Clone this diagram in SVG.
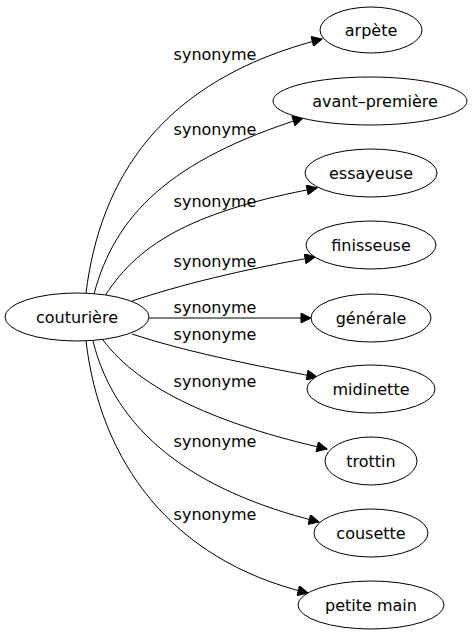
<svg xmlns="http://www.w3.org/2000/svg" width="475" height="635" viewBox="0 0 475 635">
<style>
.n ellipse{fill:#fff;stroke:#000;stroke-width:1}
text{font-family:"DejaVu Sans",sans-serif;font-size:16px;fill:#000}
.n text{text-anchor:middle}
.lbl text{text-anchor:middle}
.e path{fill:none;stroke:#000;stroke-width:1;marker-end:url(#arr)}
</style>
<defs>
<marker id="arr" viewBox="0 0 10 10" refX="10" refY="5" markerUnits="userSpaceOnUse" markerWidth="13" markerHeight="10" orient="auto">
<path d="M0,0 L10,5 L0,10 z" fill="#000" stroke="#000"/>
</marker>
</defs>
<rect width="475" height="635" fill="#fff"/>
<g id="edges" class="e">
<path d="M86,293 C100,180 160,80 322,39"/>
<path d="M94,294 C115,215 170,160 303,118"/>
<path d="M105,296 C140,240 200,210 317,188"/>
<path d="M132,301 C180,285 240,270 315,257"/>
<path d="M149,318 L311,318"/>
<path d="M132,334 C180,350 250,365 317,377"/>
<path d="M103,340 C140,390 220,425 327,449"/>
<path d="M93,341 C115,430 190,490 319,522"/>
<path d="M86,341 C100,460 170,560 308,593"/>
</g>
<g id="labels" class="lbl">
<text x="215" y="60">synonyme</text>
<text x="215" y="135">synonyme</text>
<text x="215" y="207">synonyme</text>
<text x="215" y="267">synonyme</text>
<text x="215" y="313">synonyme</text>
<text x="215" y="340">synonyme</text>
<text x="215" y="387">synonyme</text>
<text x="215" y="447">synonyme</text>
<text x="215" y="520">synonyme</text>
</g>
<g id="couturiere" class="n"><ellipse cx="77" cy="317" rx="72" ry="24"/><text x="77" y="323">couturière</text></g>
<g id="arpete" class="n"><ellipse cx="371" cy="30" rx="51" ry="23"/><text x="371" y="36">arpète</text></g>
<g id="avant-premiere" class="n"><ellipse cx="370" cy="101" rx="97" ry="24"/><text x="375" y="107">avant–première</text></g>
<g id="essayeuse" class="n"><ellipse cx="371" cy="173" rx="66" ry="24"/><text x="371" y="179">essayeuse</text></g>
<g id="finisseuse" class="n"><ellipse cx="371" cy="245" rx="65" ry="24"/><text x="371" y="251">finisseuse</text></g>
<g id="generale" class="n"><ellipse cx="371" cy="318" rx="60" ry="24"/><text x="371" y="324">générale</text></g>
<g id="midinette" class="n"><ellipse cx="371" cy="389" rx="64" ry="24"/><text x="371" y="395">midinette</text></g>
<g id="trottin" class="n"><ellipse cx="371" cy="461" rx="46" ry="24"/><text x="371" y="467">trottin</text></g>
<g id="cousette" class="n"><ellipse cx="371" cy="533" rx="57" ry="24"/><text x="371" y="539">cousette</text></g>
<g id="petite-main" class="n"><ellipse cx="371" cy="605" rx="73" ry="24"/><text x="371" y="611">petite main</text></g>
</svg>
